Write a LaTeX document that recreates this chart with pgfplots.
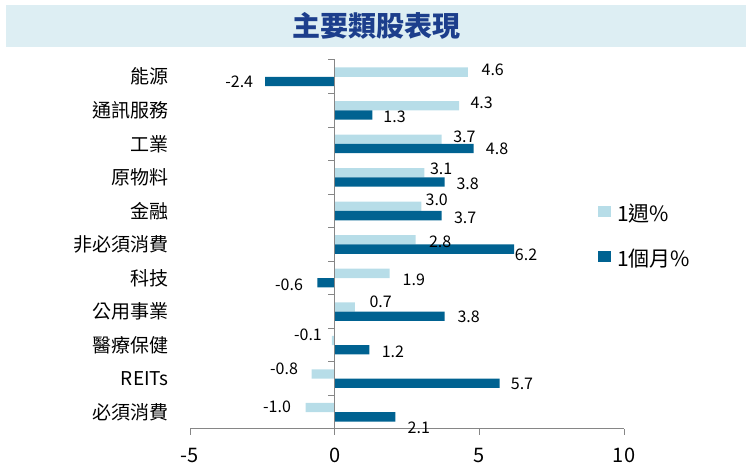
\documentclass[border=0pt]{standalone}
\usepackage{pgfplots}
\pgfplotsset{compat=1.18}
\usepackage{pgfplotstable}
\usepackage{fontspec}
\setmainfont{Noto Sans CJK TC}
\definecolor{lightbar}{RGB}{183,221,232}
\definecolor{darkbar}{RGB}{0,98,145}
\definecolor{titlebg}{RGB}{221,238,243}
\definecolor{titlefg}{RGB}{28,62,140}
\definecolor{axgray}{RGB}{134,134,134}

\pgfplotstableread{
y x dx dy
10 4.6 25 2.3
9 4.3 22.6 2.6
8 3.7 22.7 2.7
7 3.1 16.8 3.6
6 3.0 15.3 6.2
5 2.8 24.5 -2
4 1.9 24.2 -6
3 0.7 25.7 4.8
2 -0.1 -23.8 5.5
1 -0.8 -27.5 4.9
0 -1.0 -28.7 1
}\weekdata
\pgfplotstableread{
y x dx dy
10 -2.4 -26 0
9 1.3 22.3 -2
8 4.8 23.5 -0.5
7 3.8 23 -1.8
6 3.7 23.4 -1.9
5 6.2 12 -5.7
4 -0.6 -28.3 -2.3
3 3.8 24 -0.6
2 1.2 23.5 -1.7
1 5.7 22.4 -1
0 2.1 23.4 -11
}\monthdata

\begin{document}
\begin{tikzpicture}[x=1pt,y=1pt]
\path[use as bounding box] (0,0) rectangle (752,476);
\fill[titlebg] (6,429) rectangle (746,471);
\node[font=\fontsize{28}{30}\selectfont\bfseries, text=titlefg] at (376,450) {主要類股表現};
\begin{axis}[
  at={(190pt,47pt)}, anchor=south west,
  scale only axis, width=434pt, height=369pt,
  xmin=-5, xmax=10, ymin=-0.5, ymax=10.5,
  clip=false,
  xtick={-5,0,5,10},
  ytick={0,...,10},
  yticklabels={必須消費,REITs,醫療保健,公用事業,科技,非必須消費,金融,原物料,工業,通訊服務,能源},
  axis x line*=bottom, axis y line*=left,
  y axis line style={draw=none},
  x axis line style={draw=axgray, line width=1pt},
  ytick style={draw=none},
  xtick style={draw=axgray, line width=1pt},
  tick align=outside, major tick length=6pt,
  /pgf/number format/assume math mode=true,
  xticklabel style={font=\fontsize{20}{22}\selectfont, anchor=north, inner sep=0pt, text height=14pt, text depth=0pt, yshift=-13pt},
  yticklabel style={font=\fontsize{19}{22}\selectfont, anchor=east, inner sep=0pt, xshift=-15pt},
  legend style={at={(axis description cs:0.9401,0.5157)}, anchor=west, draw=none, fill=none, inner sep=0pt,
    font=\fontsize{21}{24}\selectfont, row sep=24pt, column sep=6pt,
    nodes={inner sep=0pt, text height=15pt, text depth=5pt}},
  legend cell align=left,
  sqlegend/.style={legend image code/.code={\fill[##1] (0pt,-0.5pt) rectangle (13pt,10.5pt);}},
  xbar, bar width=9.3pt,
  nodes near coords={\pgfmathprintnumber[fixed, fixed zerofill, precision=1, assume math mode=true]{\pgfplotspointmeta}},
  nodes near coords align={center},
  point meta=x,
  visualization depends on={\thisrow{dx} \as \labdx},
  visualization depends on={\thisrow{dy} \as \labdy},
  every node near coord/.append style={font=\fontsize{16}{18}\selectfont, text=black, inner sep=0pt, anchor=center, xshift=\labdx pt, yshift=\labdy pt},
]
\addplot[fill=lightbar, draw=none, bar shift=4.65pt, sqlegend] table[x=x, y=y] {\weekdata};
\addlegendentry{1週\%}
\addplot[fill=darkbar, draw=none, bar shift=-4.65pt, sqlegend] table[x=x, y=y] {\monthdata};
\addlegendentry{1個月\%}
\draw[axgray, line width=1pt] (axis cs:0,-0.5) -- (axis cs:0,10.5);
\pgfplotsinvokeforeach{-0.5,0.5,...,10.5}{\draw[axgray, line width=1pt] (axis cs:0,#1) -- ++(-7pt,0pt);}
\end{axis}
\end{tikzpicture}
\end{document}
